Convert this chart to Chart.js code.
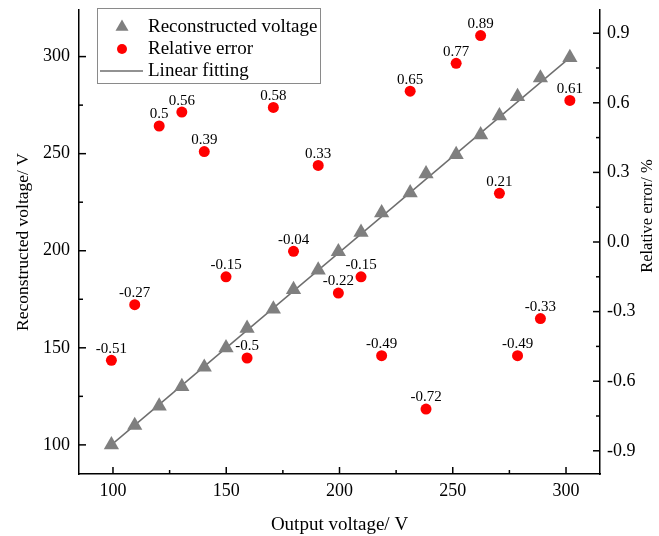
<!DOCTYPE html>
<html>
<head>
<meta charset="utf-8">
<script src="https://cdn.jsdelivr.net/npm/chart.js@4.4.1/dist/chart.umd.min.js"></script>
<style>
  html, body { margin: 0; padding: 0; background: #fff; }
  #wrap { width: 659px; height: 536px; position: relative; }
</style>
</head>
<body>
<div id="wrap"><canvas id="voltChart"></canvas></div>
<script>
// data
const outputVoltage = [99.3, 109.6, 120.4, 130.4, 140.3, 149.9, 159.2, 170.8, 179.7, 190.6, 199.5,
  209.5, 218.6, 231.2, 238.2, 251.5, 262.3, 270.6, 278.6, 288.7, 301.7];
const reconstructedVoltage = [100, 110, 120, 130, 140, 150, 160, 170, 180, 190, 199.5,
  209.5, 219.5, 229.8, 239.6, 249.5, 259.7, 269.5, 279.4, 289, 299.5];
const relativeError = [-0.51, -0.27, 0.5, 0.56, 0.39, -0.15, -0.5, 0.58, -0.04, 0.33, -0.22,
  -0.15, -0.49, 0.65, -0.72, 0.77, 0.89, 0.21, -0.49, -0.33, 0.61];
const fitX = [99.3, 301.7];
const fitY = [100, 299.5];

const legendLabels = ['Reconstructed voltage', 'Relative error', 'Linear fitting'];
const rightTitle = 'Relative error/ %';

const FONT = "'Liberation Serif', 'Times New Roman', serif";
const GRAY = '#7f7f7f';
const RED = '#ff0000';
const LINE_GRAY = '#6e6e6e';

Chart.defaults.font.family = FONT;
Chart.defaults.color = '#000';

// ticks are drawn inside the plot (major + minor), like the origin figure
const inwardTicks = {
  id: 'inwardTicks',
  afterDraw(chart) {
    const ctx = chart.ctx;
    const area = chart.chartArea;
    ctx.save();
    ctx.strokeStyle = '#000';
    ctx.lineWidth = 1.5;
    ['x', 'y', 'y1'].forEach(id => {
      const sc = chart.scales[id];
      const vals = sc.ticks.map(t => t.value);
      const marks = vals.map(v => [v, 7]);
      for (let i = 0; i < vals.length - 1; i++) marks.push([(vals[i] + vals[i + 1]) / 2, 4]);
      marks.forEach(([v, len]) => {
        const p = sc.getPixelForValue(v);
        ctx.beginPath();
        if (id === 'x') {
          ctx.moveTo(p, area.bottom); ctx.lineTo(p, area.bottom - len);
        } else if (id === 'y') {
          ctx.moveTo(area.left, p); ctx.lineTo(area.left + len, p);
        } else {
          ctx.moveTo(area.right, p); ctx.lineTo(area.right - len, p);
        }
        ctx.stroke();
      });
    });
    // right axis title reads bottom-to-top in the original
    ctx.fillStyle = '#000';
    ctx.font = '16.5px ' + FONT;
    ctx.textAlign = 'center';
    ctx.textBaseline = 'middle';
    ctx.translate(648, 216);
    ctx.rotate(-Math.PI / 2);
    ctx.fillText(rightTitle, 0, 0);
    ctx.restore();
  }
};

// value labels above the red points
const errorLabels = {
  id: 'errorLabels',
  afterDatasetsDraw(chart) {
    const ctx = chart.ctx;
    const meta = chart.getDatasetMeta(1);
    ctx.save();
    ctx.font = '15px ' + FONT;
    ctx.fillStyle = '#000';
    ctx.textAlign = 'center';
    ctx.textBaseline = 'bottom';
    meta.data.forEach((el, i) => {
      ctx.fillText(String(relativeError[i]), el.x, el.y - 4);
    });
    ctx.restore();
  }
};

// legend box sits inside the plot, top left
const boxLegend = {
  id: 'boxLegend',
  afterDraw(chart) {
    const ctx = chart.ctx;
    const x0 = 97.5, y0 = 8.5, w = 223, h = 75;
    const rows = [27, 49, 71];
    const mx = 122, tx = 148;
    ctx.save();
    ctx.fillStyle = '#fff';
    ctx.fillRect(x0, y0, w, h);
    ctx.strokeStyle = '#8a8a8a';
    ctx.lineWidth = 1;
    ctx.strokeRect(x0, y0, w, h);

    // triangle
    const r = 7.5;
    ctx.fillStyle = GRAY;
    ctx.beginPath();
    ctx.moveTo(mx, rows[0] - r);
    ctx.lineTo(mx + r * Math.sin(2 * Math.PI / 3), rows[0] + r / 2);
    ctx.lineTo(mx - r * Math.sin(2 * Math.PI / 3), rows[0] + r / 2);
    ctx.closePath();
    ctx.fill();
    // circle
    ctx.fillStyle = RED;
    ctx.beginPath();
    ctx.arc(mx, rows[1], 5, 0, Math.PI * 2);
    ctx.fill();
    // line
    ctx.strokeStyle = LINE_GRAY;
    ctx.lineWidth = 1.5;
    ctx.beginPath();
    ctx.moveTo(100, rows[2]);
    ctx.lineTo(143, rows[2]);
    ctx.stroke();

    ctx.fillStyle = '#000';
    ctx.font = '19px ' + FONT;
    ctx.textBaseline = 'middle';
    ctx.textAlign = 'left';
    legendLabels.forEach((t, i) => ctx.fillText(t, tx, rows[i]));
    ctx.restore();
  }
};

const tickFont = { size: 18, family: FONT };

function noPad(s) {
  s.paddingTop = 0; s.paddingBottom = 0; s.paddingLeft = 0; s.paddingRight = 0;
}

new Chart(document.getElementById('voltChart'), {
  type: 'scatter',
  data: {
    datasets: [
      {
        label: legendLabels[0],
        data: outputVoltage.map((x, i) => ({ x: x, y: reconstructedVoltage[i] })),
        yAxisID: 'y',
        pointStyle: 'triangle',
        pointRadius: 8.8,
        backgroundColor: GRAY,
        borderWidth: 0,
        order: 1
      },
      {
        label: legendLabels[1],
        data: outputVoltage.map((x, i) => ({ x: x, y: relativeError[i] })),
        yAxisID: 'y1',
        pointStyle: 'circle',
        pointRadius: 5.5,
        backgroundColor: RED,
        borderWidth: 0,
        order: 0
      },
      {
        label: legendLabels[2],
        data: fitX.map((x, i) => ({ x: x, y: fitY[i] })),
        yAxisID: 'y',
        showLine: true,
        pointRadius: 0,
        borderColor: LINE_GRAY,
        borderWidth: 1.5,
        order: 2
      }
    ]
  },
  options: {
    responsive: true,
    maintainAspectRatio: false,
    animation: false,
    devicePixelRatio: 1,
    layout: { padding: { top: 10, left: 0, right: 0, bottom: 0 } },
    plugins: {
      legend: { display: false },
      tooltip: { enabled: false }
    },
    scales: {
      x: {
        type: 'linear',
        position: 'bottom',
        min: 85,
        max: 315,
        grid: { display: false, drawTicks: false },
        border: { color: '#000', width: 1.5 },
        ticks: { stepSize: 50, padding: 6, font: tickFont, color: '#000', includeBounds: false },
        title: { display: true, text: 'Output voltage/ V', font: { size: 19, family: FONT, lineHeight: 1.2 }, color: '#000', padding: 0 },
        afterFit: s => { s.height = 62; noPad(s); }
      },
      y: {
        type: 'linear',
        position: 'left',
        min: 85,
        max: 324,
        grid: { display: false, drawTicks: false },
        border: { color: '#000', width: 1.5 },
        ticks: { stepSize: 50, padding: 9, font: tickFont, color: '#000', includeBounds: false },
        title: { display: true, text: 'Reconstructed voltage/ V', font: { size: 17.5, family: FONT, lineHeight: 1.2 }, color: '#000', padding: { top: 13, bottom: 0 } },
        afterFit: s => { s.width = 79; noPad(s); }
      },
      y1: {
        type: 'linear',
        position: 'right',
        min: -1,
        max: 1,
        grid: { display: false, drawTicks: false },
        border: { color: '#000', width: 1.5 },
        ticks: {
          stepSize: 0.3, padding: 7, font: tickFont, color: '#000', includeBounds: false,
          callback: v => Number(v).toFixed(1)
        },
        title: { display: false },
        afterFit: s => { s.width = 59; noPad(s); }
      }
    }
  },
  plugins: [inwardTicks, errorLabels, boxLegend]
});
</script>
</body>
</html>
